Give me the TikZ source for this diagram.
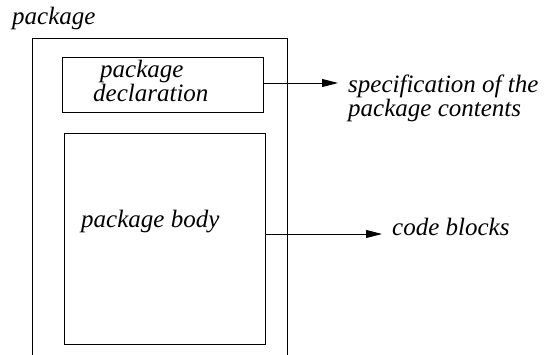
\documentclass[tikz,border=0pt]{standalone}
\usepackage{fontspec}
\setmainfont{Liberation Serif}
\usetikzlibrary{arrows.meta,positioning}

\begin{document}
\begin{tikzpicture}[x=1pt,y=-1pt]
    \tikzstyle{every node}=[font=\itshape\fontsize{25}{24}\selectfont]
    \tikzstyle{box}=[draw, line width=0.9pt, inner sep=0pt]
    \tikzstyle{lbl}=[inner sep=0pt, align=left, anchor=base west]
    \tikzstyle{arr}=[line width=0.9pt, -{Triangle[length=16pt,width=8pt]}]
    \useasboundingbox (0,0) rectangle (544,355);

    % package frame, open at the bottom
    \node[lbl] (pkg) at (12,25) {package};
    \coordinate (frameL) at (32,355);
    \coordinate (frameR) at (287,355);
    \draw[line width=0.9pt] (frameL) |- (287,38) -- (frameR);

    % declaration and body
    \node[box, minimum width=201pt, minimum height=55pt] (decl) at (162.5,84.5) {};
    \node[lbl] (decltext) at (93,102) {\hspace*{7pt}package\\declaration};
    \node[box, minimum width=201pt, minimum height=211pt] (body) at (164.5,238.5) {};
    \node[lbl] (bodytext) at (81,228) {package body};

    % what they stand for
    \node[lbl] (spec) at (348,117) {specification of the\\package contents};
    \node[lbl] (code) at (392,236) {code blocks};
    \draw[arr] (decl.east |- 0,83) -- (338,83);
    \draw[arr] (body.east |- 0,234) -- (382,234);
\end{tikzpicture}
\end{document}
